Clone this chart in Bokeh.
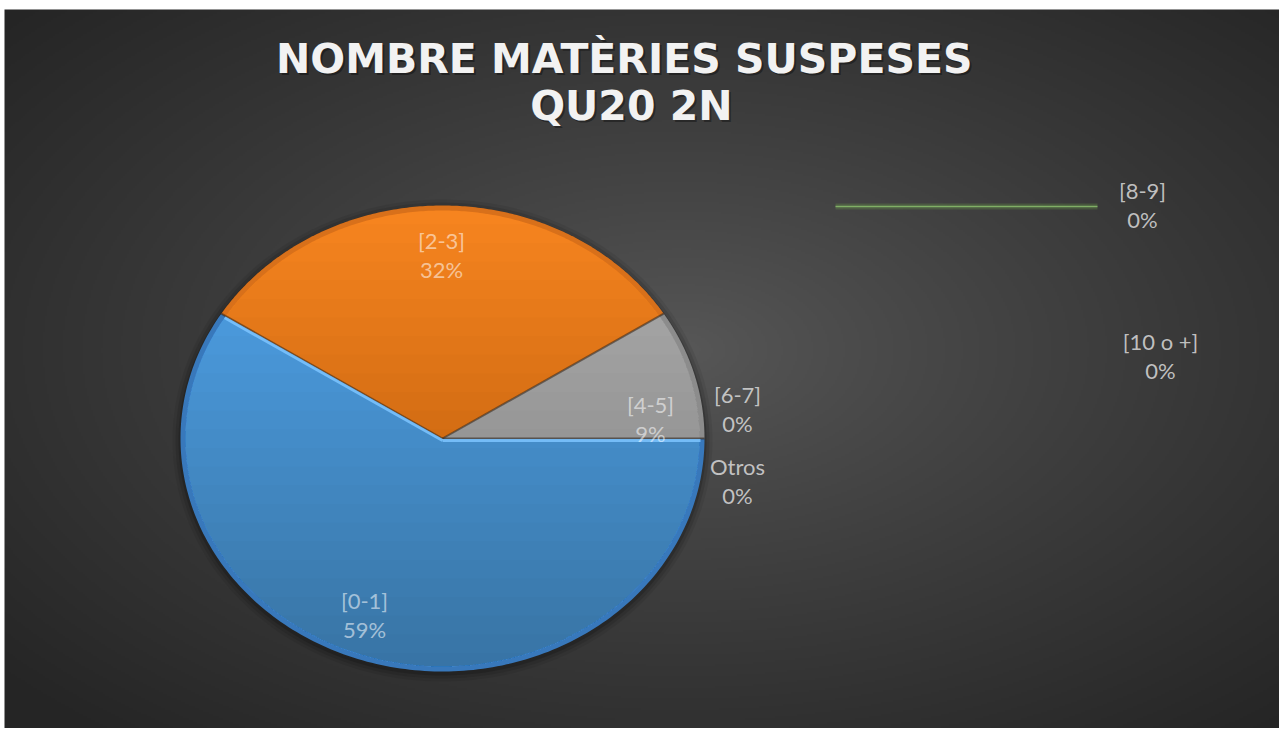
import numpy as np
from bokeh.plotting import figure
from bokeh.models import Range1d
from bokeh.embed import file_html
from bokeh.resources import INLINE
from bokeh.core.properties import value

# ---------------- data ----------------
title_lines = ["NOMBRE  MATÈRIES  SUSPESES", "QU20  2N"]
categories = ["[0-1]", "[2-3]", "[4-5]", "[6-7]", "Otros", "[8-9]", "[10 o +]"]
percent = [59, 32, 9, 0, 0, 0, 0]

# ---------------- style / layout ----------------
colors = ["#50a4ec", "#f6841f", "#b0b0b0", "#ffc000", "#4472c4", "#70ad47", "#264478"]
edge_colors = ["#3878bb", "#d8701a", "#8c8c8c", "#c09000", "#2f5597", "#507e32", "#1a2f55"]
W, H = 1279, 728
BG_X0, BG_Y0 = 4, 9      # dark chart area starts here (page pixels)
CX, CY = 442, 438        # pie centre (page pixels)
RX, RY = 262, 233        # pie radii (tilted pie -> ellipse)
# label anchor (page pixels, centre of the first text line) per category
label_pos = [(364, 600), (441, 240), (650, 404), (737, 394), (737, 466), (1142, 190), (1160, 341)]
label_inside = [True, True, True, False, False, False, False]
LINE_GAP = 29
FONT = "Lato"


def fy(ypix):
    return H - ypix


def clip_below(px, py, ythr):
    """Keep the part of polygon (px, py) with y <= ythr (data coords)."""
    ox, oy = [], []
    n = len(px)
    for i in range(n):
        x1, y1 = px[i], py[i]
        x2, y2 = px[(i + 1) % n], py[(i + 1) % n]
        in1, in2 = y1 <= ythr, y2 <= ythr
        if in1:
            ox.append(x1); oy.append(y1)
        if in1 != in2:
            tt = (ythr - y1) / (y2 - y1)
            ox.append(x1 + tt * (x2 - x1)); oy.append(ythr)
    return ox, oy


p = figure(width=W, height=H, x_range=Range1d(0, W), y_range=Range1d(0, H),
           output_backend="svg", toolbar_location=None, min_border=0,
           x_axis_type=None, y_axis_type=None)
p.grid.visible = False
p.outline_line_color = None
p.background_fill_color = "white"
p.border_fill_color = "white"

# ---------- radial gradient background ----------
bw, bh = W - BG_X0, H - BG_Y0
nx, ny = bw // 2, bh // 2
gxs = BG_X0 + (np.arange(nx) + 0.5) * bw / nx
gys_data = (np.arange(ny) + 0.5) * bh / ny
gyp = H - gys_data
gx, gy = np.meshgrid(gxs, gyp)
gcx, gcy = 680, 350
d = np.sqrt(((gx - gcx) / (bw / 2)) ** 2 + ((gy - gcy) / (bh / 2)) ** 2) / np.sqrt(2)
d = np.clip(d, 0, 1) ** 0.85
c0, c1 = 88.0, 37.0
g = (c0 + (c1 - c0) * d).astype(np.uint32)
img = (255 << 24) | (g << 16) | (g << 8) | g
p.image_rgba(image=[img.astype(np.uint32)], x=BG_X0, y=0, dw=bw, dh=bh)

# ---------- pie ----------
cy_d = fy(CY)
t = np.linspace(0, 2 * np.pi, 300)
for k, a in [(8, 0.07), (5, 0.10), (2, 0.16)]:
    p.patch(CX + (RX + k) * np.cos(t), cy_d - 2 + (RY + k) * np.sin(t),
            fill_color="black", fill_alpha=a, line_color=None)

total = float(sum(percent))
start = 0.0
slice_angles = []
for v in percent:
    sweep = 2 * np.pi * v / total
    slice_angles.append((start, start - sweep))
    start -= sweep

INSET = 5
for i, (a0, a1) in enumerate(slice_angles):
    if percent[i] <= 0:
        continue
    tt = np.linspace(a0, a1, 200)
    px = np.concatenate([[CX], CX + RX * np.cos(tt)])
    py = np.concatenate([[cy_d], cy_d + RY * np.sin(tt)])
    p.patch(px, py, fill_color=edge_colors[i], line_color=None)
    px2 = np.concatenate([[CX], CX + (RX - INSET) * np.cos(tt)])
    py2 = np.concatenate([[cy_d], cy_d + (RY - INSET) * np.sin(tt)])
    p.patch(px2, py2, fill_color=colors[i], line_color=None)
    # smooth darkening toward the bottom of the pie
    N = 24
    for k in range(N):
        ythr = cy_d + RY - (k + 1) * (2 * RY) / (N + 1)
        ox, oy = clip_below(list(px2), list(py2), ythr)
        if len(ox) > 2:
            p.patch(ox, oy, fill_color="black", fill_alpha=0.010, line_color=None)

# slice boundaries
for i, (a0, a1) in enumerate(slice_angles):
    if percent[i] <= 0:
        continue
    for a in (a0, a1):
        p.line([CX, CX + RX * np.cos(a)], [cy_d, cy_d + RY * np.sin(a)],
               line_color="#3a2a20", line_alpha=0.35, line_width=2)
# light highlight along the blue slice's edges
a0, a1 = slice_angles[0]
for a in (a0, a1):
    p.line([CX, CX + (RX - 4) * np.cos(a)], [cy_d - 2, cy_d - 2 + (RY - 4) * np.sin(a)],
           line_color="#7cc4ff", line_alpha=0.85, line_width=3)

# leader line for [8-9]
p.line([835, 1097], [fy(206), fy(206)], line_color="#70ad47", line_alpha=0.25, line_width=6)
p.line([835, 1097], [fy(206), fy(206)], line_color="#86b86a", line_alpha=0.9, line_width=1.5)

# ---------- labels ----------
for i, cat in enumerate(categories):
    lx, ly = label_pos[i]
    alpha = 0.55 if label_inside[i] else 0.85
    col = "#ffffff" if label_inside[i] else "#d9d9d9"
    p.text(x=[lx], y=[fy(ly)], text=[cat], text_align="center", text_baseline="middle",
           text_font=value(FONT), text_font_size="22px", text_color=col, text_alpha=alpha)
    p.text(x=[lx], y=[fy(ly + LINE_GAP)], text=[f"{percent[i]:.0f}%"], text_align="center",
           text_baseline="middle", text_font=value(FONT), text_font_size="22px",
           text_color=col, text_alpha=alpha)

# ---------- title ----------
for j, line in enumerate(title_lines):
    ty = 58 + 47 * j
    p.text(x=[638 + 2], y=[fy(ty + 2)], text=[line], text_align="center", text_baseline="middle",
           text_font=value("DejaVu Sans"), text_font_style="bold", text_font_size="41px",
           text_color="black", text_alpha=0.35)
    p.text(x=[638], y=[fy(ty)], text=[line], text_align="center", text_baseline="middle",
           text_font=value("DejaVu Sans"), text_font_style="bold", text_font_size="41px",
           text_color="#f2f2f2")

open("out.html", "w").write(file_html(p, INLINE))
